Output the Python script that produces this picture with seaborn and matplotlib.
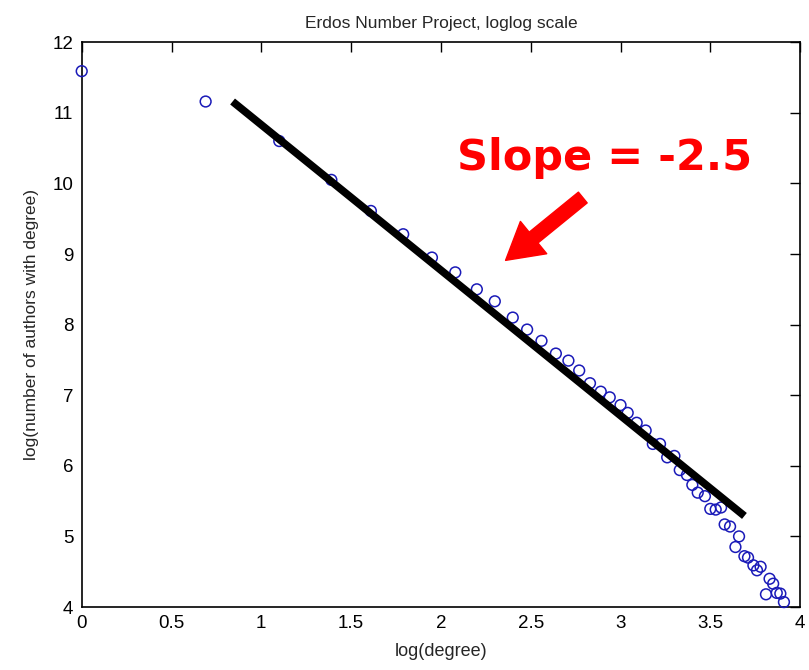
import matplotlib
matplotlib.use("Agg")
import matplotlib.pyplot as plt
import seaborn as sns
import pandas as pd

# data
log_degree = [0.00, 0.69, 1.10, 1.39, 1.61, 1.79, 1.95, 2.08, 2.20, 2.30,
              2.40, 2.48, 2.56, 2.64, 2.71, 2.77, 2.83, 2.89, 2.94, 3.00,
              3.04, 3.09, 3.14, 3.18, 3.22, 3.26, 3.30, 3.33, 3.37, 3.40,
              3.43, 3.47, 3.50, 3.53, 3.56, 3.58, 3.61, 3.64, 3.66, 3.69,
              3.71, 3.74, 3.76, 3.78, 3.81, 3.83, 3.85, 3.87, 3.89, 3.91]
log_count = [11.59, 11.16, 10.60, 10.05, 9.61, 9.28, 8.95, 8.74, 8.50, 8.33,
             8.10, 7.93, 7.77, 7.59, 7.49, 7.35, 7.17, 7.05, 6.97, 6.86,
             6.75, 6.61, 6.50, 6.31, 6.31, 6.12, 6.14, 5.94, 5.87, 5.73,
             5.62, 5.57, 5.39, 5.38, 5.41, 5.17, 5.14, 4.85, 5.00, 4.72,
             4.70, 4.59, 4.52, 4.57, 4.18, 4.40, 4.33, 4.20, 4.19, 4.07]
fit_x = [0.84, 3.69]
fit_y = [11.16, 5.29]
x_ticks = [0, 0.5, 1, 1.5, 2, 2.5, 3, 3.5, 4]
y_ticks = [4, 5, 6, 7, 8, 9, 10, 11, 12]
annotation_text = "Slope = -2.5"

sns.set_theme(style="white")
plt.rcParams['font.family'] = ['Liberation Sans', 'DejaVu Sans']

fig = plt.figure(figsize=(8.09, 6.70), dpi=100)
ax = fig.add_axes([0.101, 0.094, 0.888, 0.843])

df = pd.DataFrame({"x": log_degree, "y": log_count})
sns.scatterplot(data=df, x="x", y="y", ax=ax, marker="o", s=60,
                facecolors="none", edgecolor="#1a1ab8", linewidth=1.1,
                zorder=3, clip_on=False)

fit = pd.DataFrame({"x": fit_x, "y": fit_y})
sns.lineplot(data=fit, x="x", y="y", ax=ax, color="black", linewidth=5.5,
             solid_capstyle="butt", zorder=4)

ax.set_xlim(0, 4)
ax.set_ylim(4, 12)
ax.set_xticks(x_ticks)
ax.set_xticklabels([f"{t:g}" for t in x_ticks])
ax.set_yticks(y_ticks)
ax.set_yticklabels([f"{t:g}" for t in y_ticks])
ax.tick_params(direction="in", length=7, width=1.0, top=True, right=True,
               labeltop=False, labelright=False, labelsize=13.5, colors="black", pad=6)
for sp in ax.spines.values():
    sp.set_color("black")
    sp.set_linewidth(1.2)

ax.set_title("Erdos Number Project, loglog scale", fontsize=12.5, pad=10)
ax.set_xlabel("log(degree)", fontsize=13, labelpad=8)
ax.set_ylabel("log(number of authors with degree)", fontsize=12.5, labelpad=10)

ax.text(2.91, 10.36, annotation_text, color="#ff0000", fontsize=31,
        fontweight="bold", ha="center", va="center",
        family=["DejaVu Sans"], zorder=5)
ax.annotate("", xy=(2.36, 8.91), xytext=(2.79, 9.80),
            arrowprops=dict(arrowstyle="simple,head_length=1.3,head_width=1.5,tail_width=0.5",
                            color="#ff0000", mutation_scale=20, shrinkA=0, shrinkB=0),
            zorder=5)

fig.savefig("out.png", dpi=100, facecolor="white")
